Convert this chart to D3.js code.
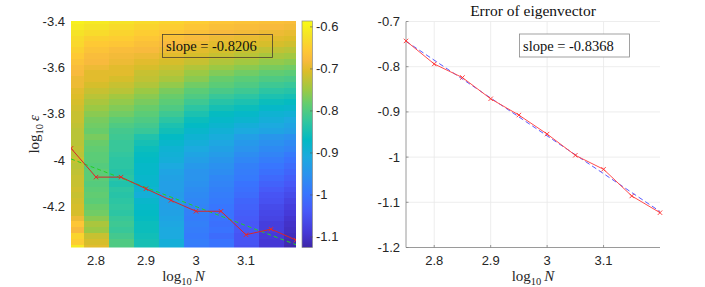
<!DOCTYPE html>
<html>
<head>
<meta charset="utf-8">
<script src="https://cdn.jsdelivr.net/npm/d3@7"></script>
<style>
body { margin: 0; background: #fff; }
text { font-family: "Liberation Sans", Arial, sans-serif; fill: #262626; }
.serif { font-family: "Liberation Serif", "Times New Roman", serif; }
</style>
</head>
<body>
<script>
var width = 705, height = 287

// log10 N for every column / point
var logN = [2.75, 2.8, 2.85, 2.9, 2.95, 3.0, 3.05, 3.1, 3.15, 3.2]
// left: log10 eps of the chosen point per N
var errLeft = [-3.948, -4.072, -4.072, -4.122, -4.172, -4.219, -4.219, -4.320, -4.296, -4.343]
// right: error of eigenvector
var errRight = [-0.743, -0.794, -0.824, -0.871, -0.907, -0.949, -0.996, -1.027, -1.086, -1.123]
var slopeLeft = -0.8206, slopeRight = -0.8368

// rows of the heat map (log10 eps), top to bottom
var epsRows = d3.range(40).map(function(k) { return -3.4 - 0.025 * k })

// heat map values, one list per column (top row first)
var grid = [
  [-0.60,-0.61,-0.62,-0.63,-0.635,-0.645,-0.655,-0.665,-0.675,-0.68,-0.69,-0.69,-0.70,-0.705,-0.71,-0.715,-0.72,-0.72,-0.725,-0.73,
   -0.73,-0.73,-0.725,-0.73,-0.72,-0.73,-0.725,-0.72,-0.72,-0.715,-0.72,-0.715,-0.71,-0.71,-0.69,-0.66,-0.68,-0.64,-0.65,-0.61],
  [-0.61,-0.62,-0.63,-0.645,-0.655,-0.665,-0.675,-0.68,-0.69,-0.70,-0.70,-0.71,-0.72,-0.73,-0.74,-0.75,-0.76,-0.77,-0.775,-0.78,
   -0.77,-0.78,-0.785,-0.79,-0.79,-0.795,-0.79,-0.79,-0.795,-0.79,-0.785,-0.79,-0.78,-0.775,-0.76,-0.74,-0.75,-0.72,-0.71,-0.70],
  [-0.62,-0.63,-0.64,-0.65,-0.66,-0.675,-0.685,-0.69,-0.70,-0.70,-0.71,-0.72,-0.73,-0.745,-0.755,-0.765,-0.775,-0.79,-0.80,-0.81,
   -0.815,-0.82,-0.82,-0.825,-0.83,-0.83,-0.835,-0.83,-0.84,-0.83,-0.835,-0.83,-0.825,-0.83,-0.82,-0.815,-0.82,-0.81,-0.80,-0.80],
  [-0.63,-0.64,-0.65,-0.66,-0.67,-0.68,-0.69,-0.70,-0.71,-0.72,-0.725,-0.735,-0.75,-0.76,-0.77,-0.78,-0.79,-0.80,-0.81,-0.82,
   -0.84,-0.85,-0.86,-0.865,-0.87,-0.875,-0.875,-0.88,-0.88,-0.89,-0.90,-0.88,-0.875,-0.87,-0.865,-0.86,-0.86,-0.855,-0.85,-0.85],
  [-0.64,-0.65,-0.66,-0.67,-0.68,-0.69,-0.70,-0.71,-0.72,-0.73,-0.74,-0.755,-0.77,-0.78,-0.79,-0.80,-0.815,-0.83,-0.845,-0.855,
   -0.87,-0.88,-0.89,-0.895,-0.90,-0.91,-0.92,-0.925,-0.93,-0.93,-0.935,-0.93,-0.93,-0.925,-0.92,-0.915,-0.91,-0.91,-0.90,-0.90],
  [-0.65,-0.66,-0.67,-0.68,-0.69,-0.70,-0.71,-0.72,-0.735,-0.75,-0.76,-0.775,-0.79,-0.80,-0.815,-0.83,-0.845,-0.86,-0.87,-0.88,
   -0.89,-0.90,-0.91,-0.92,-0.93,-0.94,-0.95,-0.95,-0.955,-0.96,-0.965,-0.97,-0.975,-0.98,-0.985,-0.98,-0.985,-0.99,-0.985,-0.99],
  [-0.66,-0.67,-0.68,-0.69,-0.70,-0.71,-0.72,-0.735,-0.75,-0.765,-0.78,-0.79,-0.805,-0.82,-0.835,-0.85,-0.865,-0.875,-0.885,-0.895,
   -0.905,-0.915,-0.925,-0.935,-0.945,-0.955,-0.96,-0.97,-0.975,-0.98,-0.985,-0.99,-0.995,-1.0,-1.0,-1.005,-1.0,-1.01,-1.0,-1.0],
  [-0.665,-0.675,-0.685,-0.695,-0.705,-0.72,-0.73,-0.745,-0.76,-0.775,-0.79,-0.80,-0.815,-0.83,-0.845,-0.86,-0.875,-0.885,-0.90,-0.91,
   -0.93,-0.94,-0.95,-0.96,-0.97,-0.98,-0.985,-0.99,-1.0,-1.005,-1.01,-1.02,-1.025,-1.03,-1.035,-1.04,-1.04,-1.045,-1.045,-1.05],
  [-0.67,-0.68,-0.69,-0.70,-0.71,-0.725,-0.74,-0.755,-0.77,-0.785,-0.80,-0.815,-0.83,-0.845,-0.86,-0.875,-0.89,-0.90,-0.91,-0.92,
   -0.945,-0.955,-0.965,-0.975,-0.985,-0.995,-1.005,-1.015,-1.025,-1.035,-1.045,-1.05,-1.06,-1.065,-1.07,-1.08,-1.08,-1.085,-1.09,-1.09],
  [-0.675,-0.685,-0.695,-0.705,-0.715,-0.73,-0.745,-0.76,-0.775,-0.79,-0.805,-0.82,-0.835,-0.85,-0.865,-0.88,-0.895,-0.91,-0.92,-0.93,
   -0.955,-0.965,-0.975,-0.99,-1.0,-1.01,-1.02,-1.03,-1.04,-1.05,-1.06,-1.07,-1.08,-1.085,-1.095,-1.10,-1.105,-1.11,-1.115,-1.12]
]

var xTicks = [2.8, 2.9, 3, 3.1]
var yTicksLeft = [-3.4, -3.6, -3.8, -4, -4.2]
var cbTicks = [-0.6, -0.7, -0.8, -0.9, -1, -1.1]
var yTicksRight = [-0.7, -0.8, -0.9, -1, -1.1, -1.2]

// parula colormap samples
var parula = [[0.2422,0.1504,0.6603],[0.2706,0.2147,0.8364],[0.2795,0.3447,0.9717],[0.2206,0.4603,0.9973],
  [0.1687,0.5703,0.9359],[0.1113,0.6635,0.8763],[0.0067,0.7312,0.7660],[0.1938,0.7758,0.6251],
  [0.3909,0.8029,0.4354],[0.6174,0.7876,0.2612],[0.8634,0.7406,0.1596],[0.9728,0.7298,0.2394],
  [0.9952,0.7893,0.2028],[0.9610,0.8890,0.1537],[0.9769,0.9839,0.0805]]
var parulaIdx = [1, 5, 11, 16, 21, 26, 31, 36, 41, 45, 50, 53, 56, 60, 64]

var cmin = -1.125, cmax = -0.586
var parulaScale = d3.scaleLinear()
  .domain(parulaIdx.map(function(i) { return (i - 1) / 63 }))
  .range(parula.map(function(c) { return d3.rgb(c[0]*255, c[1]*255, c[2]*255) }))
  .clamp(true)
function color(v) { return parulaScale((v - cmin) / (cmax - cmin)) }

var svg = d3.select("body").append("svg")
  .attr("width", width)
  .attr("height", height)

var fmt = function(d) { return String(d) }
function xMark(g) { return "M-2.2,-2.2L2.2,2.2M-2.2,2.2L2.2,-2.2" }

// ---------- left panel (heat map) ----------
var x1 = d3.scaleLinear().domain([2.75, 3.2]).range([71, 296])
var y1 = d3.scaleLinear().domain([-3.4, -4.375]).range([21, 247.5])

svg.append("clipPath").attr("id", "clipL")
  .append("rect").attr("x", 71).attr("y", 21).attr("width", 225).attr("height", 226.5)

var cells = []
grid.forEach(function(col, i) {
  col.forEach(function(v, k) { cells.push({ n: logN[i], e: epsRows[k], v: v }) })
})

var left = svg.append("g").attr("clip-path", "url(#clipL)")
left.selectAll("rect.cell")
  .data(cells)
  .enter().append("rect")
  .attr("class", "cell")
  .attr("x", function(d) { return x1(d.n - 0.025) })
  .attr("y", function(d) { return y1(d.e + 0.0125) })
  .attr("width", x1(2.8) - x1(2.75) + 0.3)
  .attr("height", y1(-3.425) - y1(-3.4) + 0.3)
  .attr("fill", function(d) { return color(d.v) })
  .attr("shape-rendering", "crispEdges")

// fitted line (green dashed)
var mxL = d3.mean(logN), myL = d3.mean(errLeft)
left.append("line")
  .attr("x1", x1(2.75)).attr("y1", y1(myL + slopeLeft * (2.75 - mxL)))
  .attr("x2", x1(3.2)).attr("y2", y1(myL + slopeLeft * (3.2 - mxL)))
  .attr("stroke", "#22d022").attr("stroke-width", 1).attr("stroke-dasharray", "4,3")

var lineL = d3.line().x(function(d, i) { return x1(logN[i]) }).y(function(d) { return y1(d) })
left.append("path").datum(errLeft)
  .attr("d", lineL).attr("fill", "none").attr("stroke", "#d8262a").attr("stroke-width", 1)
left.selectAll("path.mk").data(errLeft).enter().append("path")
  .attr("class", "mk")
  .attr("transform", function(d, i) { return "translate(" + x1(logN[i]) + "," + y1(d) + ")" })
  .attr("d", xMark).attr("stroke", "#e8282c").attr("stroke-width", 1)

// slope box (transparent)
svg.append("rect").attr("x", 162.5).attr("y", 34.5).attr("width", 110).attr("height", 23)
  .attr("fill", "none").attr("stroke", "#4a4030").attr("stroke-width", 0.8)
svg.append("text").attr("class", "serif").attr("x", 166).attr("y", 51)
  .style("font-size", "14.5px").style("fill", "#111").text("slope = " + slopeLeft)

// left ticks
svg.append("g").selectAll("text").data(xTicks).enter().append("text")
  .attr("x", function(d) { return x1(d) }).attr("y", 265)
  .attr("text-anchor", "middle").style("font-size", "13px").text(fmt)
svg.append("g").selectAll("text").data(yTicksLeft).enter().append("text")
  .attr("x", 65).attr("y", function(d) { return y1(d) + 4.5 })
  .attr("text-anchor", "end").style("font-size", "13px").text(fmt)

// colorbar
var cy = d3.scaleLinear().domain([cmin, cmax]).range([247.5, 21])
var grad = svg.append("defs").append("linearGradient").attr("id", "cbGrad")
  .attr("x1", 0).attr("y1", 1).attr("x2", 0).attr("y2", 0)
grad.selectAll("stop").data(parulaIdx).enter().append("stop")
  .attr("offset", function(d) { return (d - 1) / 63 })
  .attr("stop-color", function(d, i) { var c = parula[i]; return d3.rgb(c[0]*255, c[1]*255, c[2]*255) })
svg.append("rect").attr("x", 302).attr("y", 21).attr("width", 10.5).attr("height", 226.5)
  .attr("fill", "url(#cbGrad)").attr("stroke", "#8a8a8a").attr("stroke-width", 0.7)
svg.append("g").selectAll("line").data(cbTicks).enter().append("line")
  .attr("x1", 310).attr("x2", 312.5)
  .attr("y1", function(d) { return cy(d) }).attr("y2", function(d) { return cy(d) })
  .attr("stroke", "#555").attr("stroke-width", 0.6)
svg.append("g").selectAll("text").data(cbTicks).enter().append("text")
  .attr("x", 316).attr("y", function(d) { return cy(d) + 4.5 })
  .style("font-size", "13px").text(fmt)

// left labels
var xl1 = svg.append("text").attr("class", "serif").attr("x", x1(2.975)).attr("y", 281)
  .attr("text-anchor", "middle").style("font-size", "15px")
xl1.append("tspan").text("log")
xl1.append("tspan").attr("dy", 4).style("font-size", "10.5px").text("10")
xl1.append("tspan").attr("dy", -4).attr("dx", 3).style("font-style", "italic").text("N")

var yl1 = svg.append("text").attr("class", "serif")
  .attr("transform", "translate(39," + y1(-3.8875) + ") rotate(-90)")
  .attr("text-anchor", "middle").style("font-size", "15px")
yl1.append("tspan").text("log")
yl1.append("tspan").attr("dy", 4).style("font-size", "10.5px").text("10")
yl1.append("tspan").attr("dy", -4).attr("dx", 3).style("font-style", "italic").text("ε")

// ---------- right panel ----------
var x2 = d3.scaleLinear().domain([2.75, 3.2]).range([406, 660])
var y2 = d3.scaleLinear().domain([-0.7, -1.2]).range([21.5, 247.5])

var right = svg.append("g")
right.selectAll("line.gx").data(xTicks).enter().append("line")
  .attr("x1", function(d) { return x2(d) }).attr("x2", function(d) { return x2(d) })
  .attr("y1", 21.5).attr("y2", 247.5).attr("stroke", "#e9e9e9").attr("stroke-width", 0.8)
right.selectAll("line.gy").data(yTicksRight.slice(0, 5)).enter().append("line")
  .attr("y1", function(d) { return y2(d) }).attr("y2", function(d) { return y2(d) })
  .attr("x1", 406).attr("x2", 660).attr("stroke", "#e9e9e9").attr("stroke-width", 0.8)

// axes lines + inward ticks
right.append("path").attr("d", "M406,21.5V247.5H660").attr("fill", "none")
  .attr("stroke", "#808080").attr("stroke-width", 0.8)
right.selectAll("line.tx").data(xTicks).enter().append("line")
  .attr("x1", function(d) { return x2(d) }).attr("x2", function(d) { return x2(d) })
  .attr("y1", 247.5).attr("y2", 245).attr("stroke", "#808080").attr("stroke-width", 0.8)
right.selectAll("line.ty").data(yTicksRight).enter().append("line")
  .attr("y1", function(d) { return y2(d) }).attr("y2", function(d) { return y2(d) })
  .attr("x1", 406).attr("x2", 408.5).attr("stroke", "#808080").attr("stroke-width", 0.8)

right.selectAll("text.xt").data(xTicks).enter().append("text")
  .attr("x", function(d) { return x2(d) }).attr("y", 265)
  .attr("text-anchor", "middle").style("font-size", "13px").text(fmt)
right.selectAll("text.yt").data(yTicksRight).enter().append("text")
  .attr("x", 400).attr("y", function(d) { return y2(d) + 4.5 })
  .attr("text-anchor", "end").style("font-size", "13px").text(fmt)

// fitted line (blue dashed)
var mxR = d3.mean(logN), myR = d3.mean(errRight)
right.append("line")
  .attr("x1", x2(2.75)).attr("y1", y2(myR + slopeRight * (2.75 - mxR)))
  .attr("x2", x2(3.2)).attr("y2", y2(myR + slopeRight * (3.2 - mxR)))
  .attr("stroke", "#5a5aff").attr("stroke-width", 1).attr("stroke-dasharray", "5,3")

var lineR = d3.line().x(function(d, i) { return x2(logN[i]) }).y(function(d) { return y2(d) })
right.append("path").datum(errRight)
  .attr("d", lineR).attr("fill", "none").attr("stroke", "#ff4d4d").attr("stroke-width", 1)
right.selectAll("path.mk").data(errRight).enter().append("path")
  .attr("class", "mk")
  .attr("transform", function(d, i) { return "translate(" + x2(logN[i]) + "," + y2(d) + ")" })
  .attr("d", xMark).attr("stroke", "#ff3030").attr("stroke-width", 0.9)

// slope box (white)
svg.append("rect").attr("x", 519.5).attr("y", 34).attr("width", 110).attr("height", 23)
  .attr("fill", "#fff").attr("stroke", "#8a8a8a").attr("stroke-width", 0.8)
svg.append("text").attr("class", "serif").attr("x", 523).attr("y", 50.5)
  .style("font-size", "14.5px").style("fill", "#111").text("slope = " + slopeRight)

// title and label
svg.append("text").attr("class", "serif").attr("x", 533).attr("y", 15.5)
  .attr("text-anchor", "middle").style("font-size", "15.5px").style("fill", "#111")
  .text("Error of eigenvector")

var xl2 = svg.append("text").attr("class", "serif").attr("x", x2(2.975)).attr("y", 281)
  .attr("text-anchor", "middle").style("font-size", "15px")
xl2.append("tspan").text("log")
xl2.append("tspan").attr("dy", 4).style("font-size", "10.5px").text("10")
xl2.append("tspan").attr("dy", -4).attr("dx", 3).style("font-style", "italic").text("N")
</script>
</body>
</html>
